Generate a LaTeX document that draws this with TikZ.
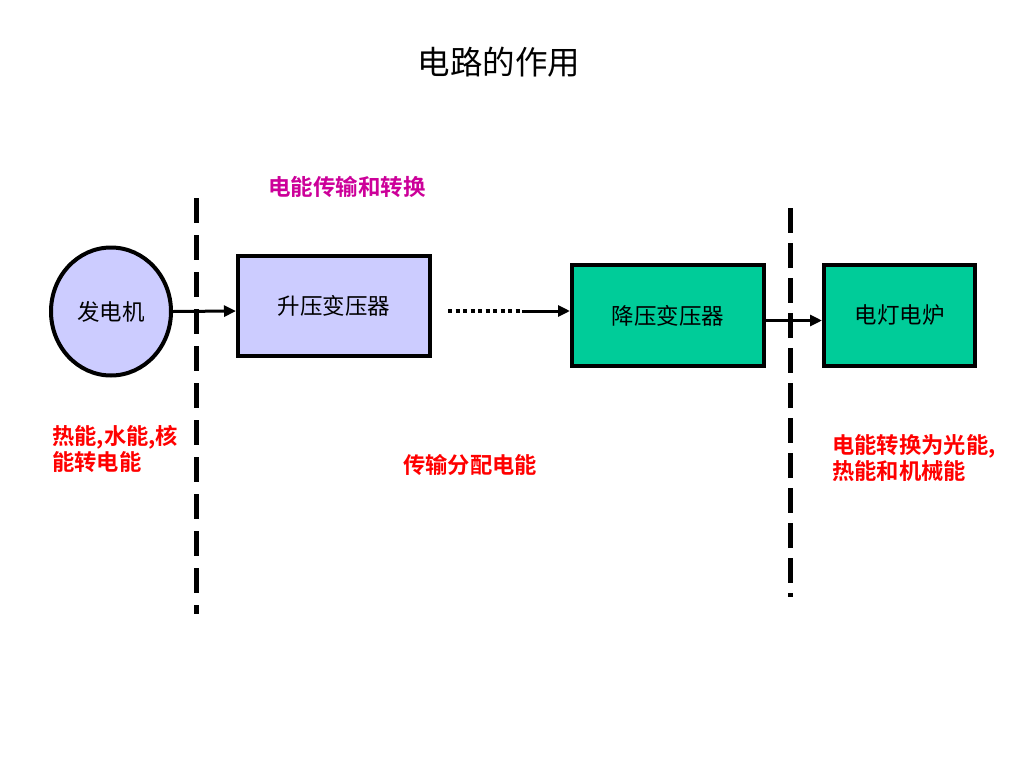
\documentclass[tikz,border=0pt]{standalone}
\usepackage{fontspec}
\setmainfont{Noto Sans CJK SC}
\newfontfamily\cjkb{Noto Sans CJK SC Bold}
\usetikzlibrary{shapes.geometric,arrows.meta}
\definecolor{lav}{HTML}{CCCCFF}
\definecolor{grn}{HTML}{00CC99}
\definecolor{mag}{HTML}{CC0099}
\definecolor{rd}{HTML}{FF0000}
\tikzset{
  blk/.style={draw=black, line width=4pt, rectangle, inner sep=0pt, font=\fontsize{22.5}{25}\selectfont},
  conn/.style={line width=3pt, -{Triangle[length=12pt,width=11pt]}},
  sep/.style={line width=5pt},
  note/.style={text=rd, font=\cjkb\fontsize{22.3}{26.5}\selectfont, align=left, inner sep=0pt},
}
\begin{document}
\begin{tikzpicture}[x=1pt,y=-1pt]
\useasboundingbox (0,0) rectangle (1024,768);
\node (title) at (499,62) {\fontsize{32.5}{35}\selectfont 电路的作用};
% separators
\coordinate (s1a) at (196,198); \coordinate (s1b) at (196,614);
\coordinate (s2a) at (790,208); \coordinate (s2b) at (790,597);
\draw[sep, dash pattern=on 25pt off 12pt] (s1a) -- (s1b);
\draw[sep, dash pattern=on 25pt off 10pt] (s2a) -- (s2b);
% nodes
\node[ellipse, draw=black, line width=4pt, fill=lav, minimum width=120pt, minimum height=128pt, inner sep=0pt, font=\fontsize{22.5}{25}\selectfont] (gen) at (111,311.5) {发电机};
\node[blk, fill=lav, minimum width=192pt, minimum height=100pt] (b1) at (334,306) {升压变压器};
\node[blk, fill=grn, minimum width=192pt, minimum height=101pt] (b2) at (668,315.5) {降压变压器};
\node[blk, fill=grn, minimum width=151pt, minimum height=101pt] (b3) at (899.5,315.5) {电灯电炉};
% connectors
\draw[conn] (gen.east) -- ([yshift=-5pt]b1.west);
\coordinate (d1) at (448,311);
\coordinate (d2) at (522,311);
\draw[line width=3.5pt, dash pattern=on 4pt off 3.5pt] (d1) -- (d2);
\draw[conn] (d2) -- ([yshift=4.5pt]b2.west);
\draw[conn] ([yshift=-5pt]b2.east) -- ([yshift=-5pt]b3.west);
% labels
\node[text=mag, font=\cjkb\fontsize{22.5}{25}\selectfont] (lab0) at (347,187) {电能传输和转换};
\node[note, anchor=north west] (lab1) at (52,425) {热能,水能,核\\能转电能};
\node[note] (lab2) at (470,465) {传输分配电能};
\node[note, anchor=north west] (lab3) at (832,434) {电能转换为光能,\\热能和机械能};
\end{tikzpicture}
\end{document}
